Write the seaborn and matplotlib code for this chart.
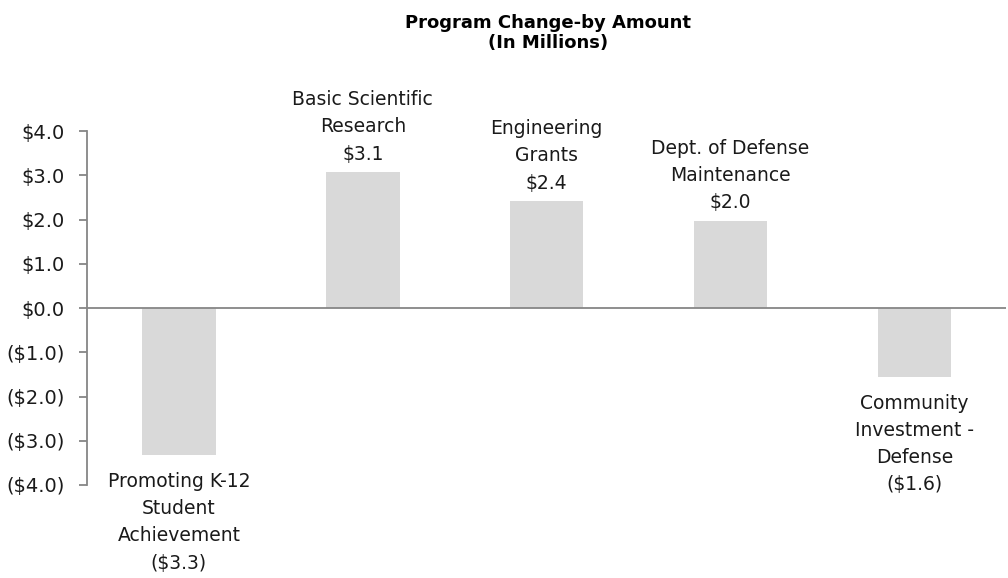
import pandas as pd
import seaborn as sns
import matplotlib.pyplot as plt
from matplotlib.ticker import FuncFormatter


programs = [
    "Promoting K-12\nStudent\nAchievement",
    "Basic Scientific\nResearch",
    "Engineering\nGrants",
    "Dept. of Defense\nMaintenance",
    "Community\nInvestment -\nDefense",
]
change = [-3.33, 3.08, 2.42, 1.98, -1.56]
yticks = [-4, -3, -2, -1, 0, 1, 2, 3, 4]

df = pd.DataFrame({"program": programs, "change": change})

sns.set_theme(style="white")
plt.rcParams["font.family"] = ["DejaVu Sans"]

fig = plt.figure(figsize=(10.08, 5.78), dpi=100)
ax = fig.add_axes([0.0863, 0.161, 0.912, 0.612])

sns.barplot(data=df, x="program", y="change", color="#d9d9d9",
            saturation=1, width=0.4, linewidth=0, ax=ax)


def money(v, pos=None):
    if v < 0:
        return f"(${-v:.1f})"
    return f"${v:.1f}"


for i, (name, val) in enumerate(zip(programs, change)):
    text = f"{name}\n{money(round(val, 1))}"
    if val >= 0:
        ax.annotate(text, (i, val), xytext=(0, 6), textcoords="offset points",
                    ha="center", va="bottom", fontsize=13.5, linespacing=1.55,
                    color="#1a1a1a")
    else:
        ax.annotate(text, (i, val), xytext=(0, -12), textcoords="offset points",
                    ha="center", va="top", fontsize=13.5, linespacing=1.55,
                    color="#1a1a1a")

ax.set_ylim(-4, 4)
ax.set_yticks(yticks)
ax.yaxis.set_major_formatter(FuncFormatter(money))
ax.set_xticks([])
ax.set_xlabel("")
ax.set_ylabel("")
ax.axhline(0, color="#868686", lw=1.3, zorder=3)

for s in ["top", "right", "bottom"]:
    ax.spines[s].set_visible(False)
ax.spines["left"].set_color("#868686")
ax.spines["left"].set_linewidth(1.3)
ax.tick_params(axis="y", left=True, length=6, width=1.3, color="#868686",
               labelsize=14, pad=10, labelcolor="#1a1a1a")

fig.text(0.5435, 0.943, "Program Change-by Amount\n(In Millions)",
         ha="center", va="center", fontsize=13, fontweight="bold",
         linespacing=1.2, color="black")

fig.savefig("out.png", dpi=100)
